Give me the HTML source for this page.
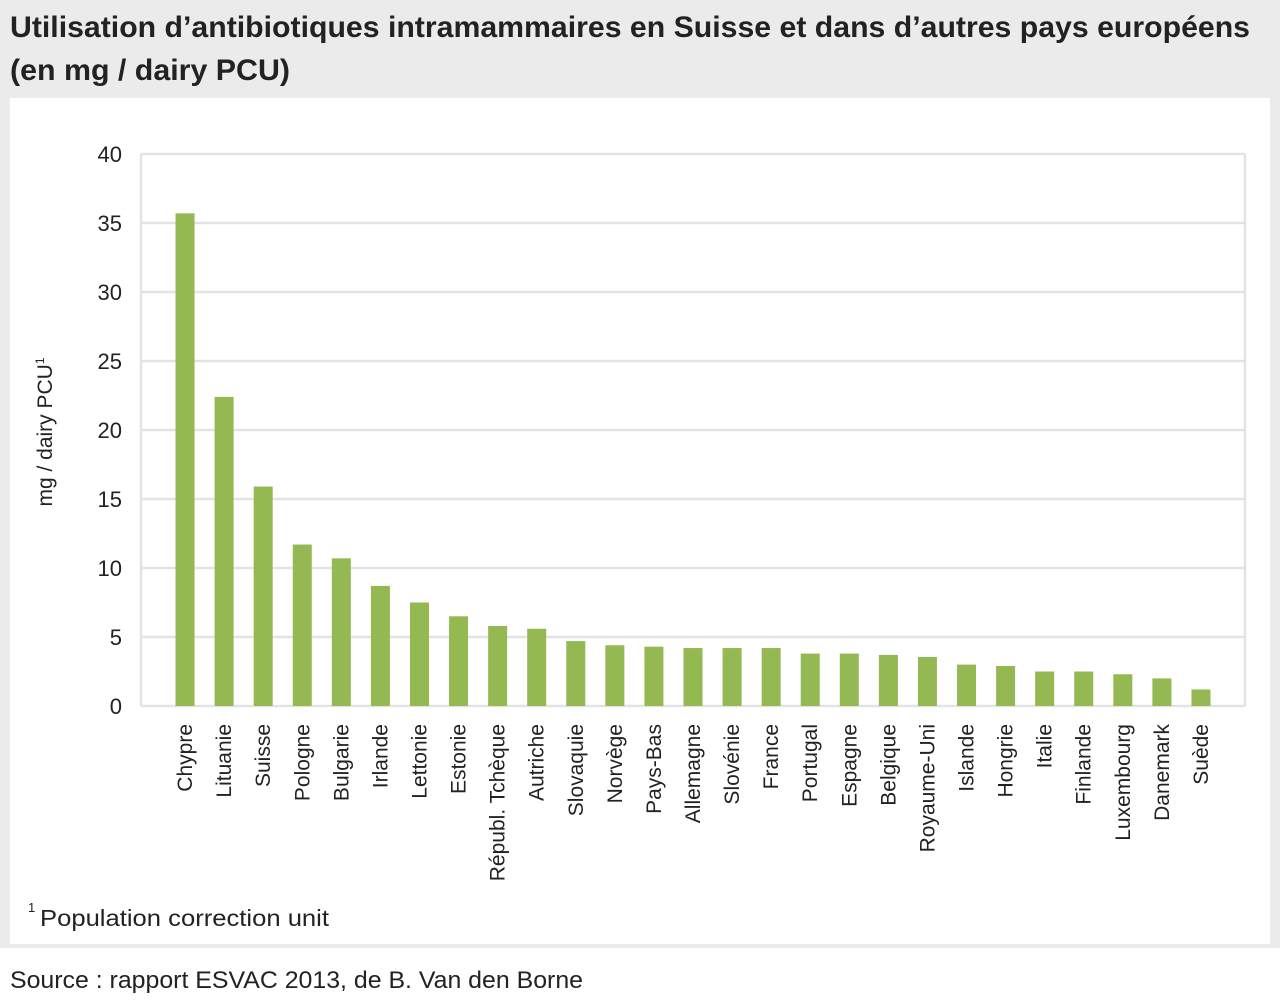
<!DOCTYPE html>
<html><head><meta charset="utf-8"><style>
html,body{margin:0;padding:0;background:#fff;}
svg{display:block;font-family:"Liberation Sans Narrow","Liberation Sans",sans-serif;}
</style></head><body>
<svg id="chart" width="1280" height="1000" viewBox="0 0 1280 1000" xmlns="http://www.w3.org/2000/svg">
<rect x="0" y="0" width="1280" height="948" fill="#ebebeb"/>
<rect x="10" y="98" width="1260" height="846" fill="#fff"/>
<text x="10" y="37" font-size="30" font-weight="bold" fill="#222" textLength="1240" lengthAdjust="spacingAndGlyphs">Utilisation d’antibiotiques intramammaires en Suisse et dans d’autres pays européens</text>
<text x="10" y="80" font-size="30" font-weight="bold" fill="#222" textLength="280" lengthAdjust="spacingAndGlyphs">(en mg / dairy PCU)</text>
<g id="grid"></g><g id="bars"></g><g id="xlabels"></g><g id="ylabels"></g>
<text transform="translate(52,432) rotate(-90)" text-anchor="middle" font-size="21" fill="#222">mg / dairy PCU<tspan font-size="12" dy="-8">1</tspan></text>
<text x="28" y="912" font-size="13" fill="#222">1</text>
<text x="40" y="926" font-size="23" fill="#222" textLength="289" lengthAdjust="spacingAndGlyphs">Population correction unit</text>
<text x="10" y="988" font-size="24" fill="#222" textLength="573" lengthAdjust="spacingAndGlyphs">Source : rapport ESVAC 2013, de B. Van den Borne</text>
</svg>
<script>
const categories = ["Chypre","Lituanie","Suisse","Pologne","Bulgarie","Irlande","Lettonie","Estonie","Républ. Tchèque","Autriche","Slovaquie","Norvège","Pays-Bas","Allemagne","Slovénie","France","Portugal","Espagne","Belgique","Royaume-Uni","Islande","Hongrie","Italie","Finlande","Luxembourg","Danemark","Suède"];
const values = [35.7,22.4,15.9,11.7,10.7,8.7,7.5,6.5,5.8,5.6,4.7,4.4,4.3,4.2,4.2,4.2,3.8,3.8,3.7,3.55,3.0,2.9,2.5,2.5,2.3,2.0,1.2];
const yTicks = [0,5,10,15,20,25,30,35,40];
const NS="http://www.w3.org/2000/svg";
const L=141,R=1245,T=154,B=706,yMax=40,pad=24.5;
const band=(R-L-2*pad)/categories.length;
function y(v){return B-(v/yMax)*(B-T);}
function xc(i){return L+pad+band*(i+0.5);}
function mk(tag,attrs,parent){const e=document.createElementNS(NS,tag);for(const k in attrs)e.setAttribute(k,attrs[k]);document.getElementById(parent).appendChild(e);return e;}
yTicks.forEach(t=>{
  const g=mk('line',{x1:L,x2:R,y1:y(t),y2:y(t),stroke:'#e3e3e3','stroke-width':2.5},'grid');
  
  
  const tx=mk('text',{x:122,y:y(t)+8,'text-anchor':'end','font-size':22,fill:'#222'},'ylabels');
  tx.textContent=t;
  
  
});
[L,R].forEach((xx,k)=>{
  const v=mk('line',{x1:xx,x2:xx,y1:T,y2:B,stroke:'#e3e3e3','stroke-width':2.5},'grid');
  
  
});
categories.forEach((c,i)=>{
  const b=mk('rect',{x:xc(i)-9.5,y:y(values[i]),width:19,height:B-y(values[i]),fill:'#94b852'},'bars');
  
  
  const t=mk('text',{transform:'translate('+(xc(i)+7)+',724) rotate(-90)','text-anchor':'end','font-size':21,fill:'#222'},'xlabels');
  t.textContent=c;
  
  
});
</script>
</body></html>
